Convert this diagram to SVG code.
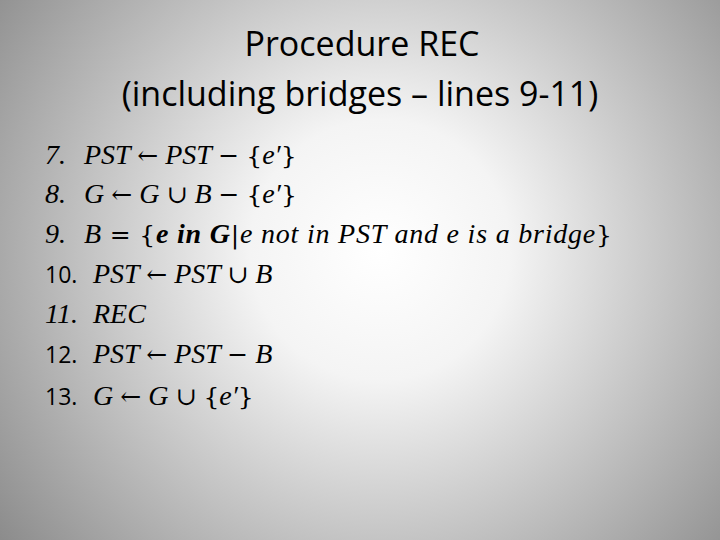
<svg xmlns="http://www.w3.org/2000/svg" width="720" height="540" viewBox="0 0 720 540">
<defs>
<radialGradient id="bg" cx="380" cy="250" r="520" gradientUnits="userSpaceOnUse">
<stop offset="0" stop-color="#ffffff"/>
<stop offset="0.25" stop-color="#f4f4f4"/>
<stop offset="1" stop-color="#7f7f7f"/>
</radialGradient>
<style>
.t{font-family:"Open Sans","Liberation Sans",sans-serif;font-size:34px;fill:#000;text-anchor:middle}
.n{font-family:"Open Sans","Liberation Sans",sans-serif;font-size:23px;fill:#000}
.m{font-family:"Liberation Serif","DejaVu Serif",serif;font-style:italic;font-size:28px;fill:#000;white-space:pre}
.r{font-family:"DejaVu Serif",serif;font-style:normal;font-size:25px}
.b{font-weight:bold}
</style>
</defs>
<rect width="720" height="540" fill="url(#bg)"/>
<g id="title">
<text class="t" x="362" y="56">Procedure REC</text>
<text class="t" x="360" y="106">(including bridges – lines 9-11)</text>
</g>
<g id="list">
<text class="m" x="45" y="164">7.</text><text class="m" x="84" y="164" xml:space="preserve">PST <tspan class="r">←</tspan> PST <tspan class="r">−</tspan> <tspan class="r">{</tspan>e′<tspan class="r">}</tspan></text>
<text class="m" x="45" y="203">8.</text><text class="m" x="84" y="203" xml:space="preserve">G <tspan class="r">←</tspan> G <tspan class="r">∪</tspan> B <tspan class="r">−</tspan> <tspan class="r">{</tspan>e′<tspan class="r">}</tspan></text>
<text class="m" x="45" y="243">9.</text><text class="m" x="84" y="243" xml:space="preserve" textLength="528" lengthAdjust="spacing">B <tspan class="r">=</tspan> <tspan class="r">{</tspan><tspan class="b">e in G</tspan><tspan class="r">|</tspan>e not in PST and e is a bridge<tspan class="r">}</tspan></text>
<text class="n" x="45" y="283">10.</text><text class="m" x="93" y="283" xml:space="preserve">PST <tspan class="r">←</tspan> PST <tspan class="r">∪</tspan> B</text>
<text class="m" x="45" y="323">11.</text><text class="m" x="93" y="323">REC</text>
<text class="n" x="45" y="363">12.</text><text class="m" x="93" y="363" xml:space="preserve">PST <tspan class="r">←</tspan> PST <tspan class="r">−</tspan> B</text>
<text class="n" x="45" y="405">13.</text><text class="m" x="93" y="405" xml:space="preserve">G <tspan class="r">←</tspan> G <tspan class="r">∪</tspan> <tspan class="r">{</tspan>e′<tspan class="r">}</tspan></text>
</g>
</svg>
